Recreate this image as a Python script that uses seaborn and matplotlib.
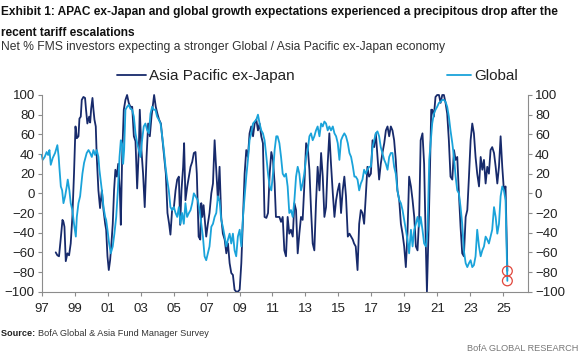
import numpy as np
import pandas as pd
import matplotlib
matplotlib.use("Agg")
import matplotlib.pyplot as plt
from matplotlib.lines import Line2D
import seaborn as sns

# ── Data (decimal year, net %) ──────────────────────────
apac_t = [1997.85, 1997.95, 1998.05, 1998.15, 1998.26, 1998.32, 1998.38, 1998.46, 1998.56, 1998.66,
          1998.76, 1998.86, 1998.96, 1999.05, 1999.13, 1999.23, 1999.29, 1999.37, 1999.43, 1999.53,
          1999.63, 1999.69, 1999.77, 1999.88, 1999.94, 2000.00, 2000.08, 2000.14, 2000.20, 2000.28,
          2000.34, 2000.44, 2000.54, 2000.65, 2000.75, 2000.85, 2000.91, 2000.99, 2001.07, 2001.15,
          2001.23, 2001.31, 2001.39, 2001.47, 2001.56, 2001.64, 2001.74, 2001.80, 2001.88, 2001.98,
          2002.08, 2002.18, 2002.28, 2002.38, 2002.49, 2002.59, 2002.69, 2002.79, 2002.89, 2002.95,
          2003.05, 2003.15, 2003.25, 2003.36, 2003.46, 2003.56, 2003.66, 2003.76, 2003.82, 2003.92,
          2004.02, 2004.12, 2004.23, 2004.33, 2004.43, 2004.53, 2004.63, 2004.73, 2004.81, 2004.91,
          2005.02, 2005.12, 2005.22, 2005.32, 2005.40, 2005.48, 2005.58, 2005.64, 2005.72, 2005.83,
          2005.93, 2006.03, 2006.13, 2006.23, 2006.33, 2006.41, 2006.52, 2006.62, 2006.68, 2006.74,
          2006.82, 2006.88, 2006.98, 2007.08, 2007.18, 2007.29, 2007.39, 2007.49, 2007.59, 2007.69,
          2007.79, 2007.89, 2007.99, 2008.10, 2008.20, 2008.30, 2008.40, 2008.50, 2008.60, 2008.70,
          2008.80, 2008.90, 2009.01, 2009.11, 2009.21, 2009.31, 2009.41, 2009.51, 2009.61, 2009.71,
          2009.82, 2009.92, 2010.02, 2010.12, 2010.22, 2010.32, 2010.42, 2010.52, 2010.63, 2010.73,
          2010.83, 2010.93, 2011.03, 2011.13, 2011.21, 2011.42, 2011.52, 2011.62, 2011.72, 2011.82,
          2011.92, 2012.02, 2012.12, 2012.23, 2012.33, 2012.43, 2012.53, 2012.63, 2012.73, 2012.83,
          2012.93, 2013.04, 2013.14, 2013.24, 2013.34, 2013.44, 2013.54, 2013.64, 2013.74, 2013.85,
          2013.95, 2014.05, 2014.15, 2014.25, 2014.35, 2014.45, 2014.55, 2014.66, 2014.76, 2014.86,
          2014.96, 2015.06, 2015.16, 2015.26, 2015.36, 2015.46, 2015.57, 2015.67, 2015.77, 2015.87,
          2015.95, 2016.05, 2016.16, 2016.26, 2016.36, 2016.46, 2016.56, 2016.66, 2016.76, 2016.86,
          2016.97, 2017.07, 2017.17, 2017.27, 2017.37, 2017.47, 2017.57, 2017.67, 2017.78, 2017.88,
          2017.98, 2018.08, 2018.18, 2018.28, 2018.38, 2018.48, 2018.58, 2018.69, 2018.79, 2018.89,
          2018.99, 2019.09, 2019.19, 2019.29, 2019.40, 2019.50, 2019.60, 2019.70, 2019.80, 2019.90,
          2019.99, 2020.10, 2020.20, 2020.31, 2020.37, 2020.47, 2020.55, 2020.63, 2020.69, 2020.79,
          2020.89, 2020.99, 2021.10, 2021.20, 2021.30, 2021.40, 2021.50, 2021.60, 2021.70, 2021.80,
          2021.91, 2022.01, 2022.11, 2022.21, 2022.31, 2022.41, 2022.51, 2022.61, 2022.72, 2022.82,
          2022.92, 2023.02, 2023.12, 2023.22, 2023.32, 2023.42, 2023.53, 2023.63, 2023.73, 2023.83,
          2023.93, 2024.03, 2024.13, 2024.23, 2024.33, 2024.44, 2024.54, 2024.64, 2024.74, 2024.84,
          2024.94, 2025.04, 2025.14, 2025.25]
apac_v = [-60, -63, -64, -47, -27, -29, -34, -69, -61, -63,
          -51, -24, 20, 68, 56, 58, 76, 78, 95, 98,
          97, 85, 71, 78, 72, 86, 97, 85, 75, 68,
          37, 3, -15, 3, -17, -31, -37, -64, -78, -68,
          -51, -31, 3, 24, 17, 30, 3, -32, 37, 85,
          95, 100, 92, 88, 88, 58, 53, 5, 44, 85,
          44, 20, -14, 37, 71, 58, 78, 92, 100, 88,
          81, 75, 71, 54, 37, 20, -20, -31, -42, -17,
          -14, 3, 14, 17, -32, 3, 27, 51, -7, 7,
          17, 27, 32, 41, 42, 20, -44, -47, -10, -24,
          -12, -24, -44, -31, -20, 0, 10, 54, 24, -7,
          27, -24, -41, -47, -61, -51, -71, -81, -83, -98,
          -100, -100, -98, -71, -24, 20, 44, 37, 61, 68,
          58, 71, 75, 64, 71, 58, 51, -24, -25, -20,
          20, 42, 34, 10, -24, -24, -29, -24, -58, -64,
          -24, -41, -37, -44, -10, -17, -61, -41, -24, -27,
          7, 51, 47, 24, -17, -51, -58, -10, 27, 3,
          41, 17, -24, -14, 30, 61, 30, 0, -24, -7,
          3, 10, -20, 3, 17, -3, -44, -41, -44, -47,
          -51, -54, -78, -31, -17, -20, -31, -3, 27, 17,
          20, 54, 47, 61, 37, 14, 30, 41, 51, 64,
          68, 58, 68, 64, 54, 34, 3, -7, -31, -41,
          -54, -75, -41, 17, 7, -7, -24, -54, -58, -24,
          54, 61, 30, -58, -100, -37, 20, 85, 85, 78,
          98, 100, 100, 92, 100, 100, 92, 81, 54, 17,
          14, 44, 34, 37, 0, -34, -61, -64, -24, -17,
          17, 54, 71, 61, 37, 20, 7, 37, 24, 34,
          10, 27, 20, 44, 47, 41, 27, 10, 27, 58,
          27, 3, 7, -79]

glob_t = [1997.00, 1997.06, 1997.18, 1997.30, 1997.39, 1997.47, 1997.55, 1997.67, 1997.81, 1997.95,
          1998.03, 1998.07, 1998.16, 1998.24, 1998.32, 1998.42, 1998.52, 1998.58, 1998.68, 1998.76,
          1998.86, 1998.96, 1999.07, 1999.13, 1999.23, 1999.33, 1999.47, 1999.57, 1999.73, 1999.84,
          1999.94, 2000.04, 2000.14, 2000.24, 2000.34, 2000.44, 2000.50, 2000.65, 2000.75, 2000.85,
          2000.91, 2000.99, 2001.09, 2001.19, 2001.31, 2001.41, 2001.52, 2001.62, 2001.72, 2001.80,
          2001.88, 2001.94, 2002.00, 2002.08, 2002.18, 2002.28, 2002.38, 2002.49, 2002.59, 2002.69,
          2002.79, 2002.89, 2002.99, 2003.09, 2003.19, 2003.29, 2003.40, 2003.50, 2003.60, 2003.70,
          2003.80, 2003.90, 2004.00, 2004.10, 2004.21, 2004.31, 2004.41, 2004.51, 2004.61, 2004.71,
          2004.81, 2004.91, 2005.02, 2005.12, 2005.22, 2005.32, 2005.42, 2005.52, 2005.62, 2005.72,
          2005.82, 2005.93, 2006.03, 2006.13, 2006.23, 2006.33, 2006.47, 2006.58, 2006.68, 2006.78,
          2006.88, 2006.98, 2007.08, 2007.18, 2007.29, 2007.39, 2007.49, 2007.59, 2007.69, 2007.79,
          2007.89, 2007.99, 2008.10, 2008.20, 2008.30, 2008.40, 2008.50, 2008.60, 2008.70, 2008.80,
          2008.90, 2009.01, 2009.11, 2009.21, 2009.31, 2009.41, 2009.51, 2009.61, 2009.71, 2009.82,
          2009.92, 2010.02, 2010.12, 2010.22, 2010.32, 2010.42, 2010.52, 2010.63, 2010.73, 2010.83,
          2010.93, 2011.03, 2011.13, 2011.23, 2011.31, 2011.42, 2011.52, 2011.62, 2011.72, 2011.82,
          2011.92, 2012.02, 2012.12, 2012.23, 2012.33, 2012.43, 2012.53, 2012.63, 2012.73, 2012.83,
          2012.93, 2013.04, 2013.14, 2013.24, 2013.34, 2013.44, 2013.54, 2013.64, 2013.74, 2013.85,
          2013.95, 2014.05, 2014.15, 2014.25, 2014.35, 2014.45, 2014.55, 2014.66, 2014.76, 2014.86,
          2014.96, 2015.06, 2015.16, 2015.26, 2015.36, 2015.46, 2015.57, 2015.67, 2015.77, 2015.87,
          2015.97, 2016.05, 2016.16, 2016.26, 2016.36, 2016.46, 2016.56, 2016.66, 2016.76, 2016.86,
          2016.97, 2017.07, 2017.17, 2017.27, 2017.37, 2017.47, 2017.57, 2017.67, 2017.78, 2017.88,
          2017.98, 2018.08, 2018.18, 2018.28, 2018.38, 2018.48, 2018.58, 2018.69, 2018.79, 2018.89,
          2018.99, 2019.09, 2019.19, 2019.29, 2019.40, 2019.50, 2019.60, 2019.70, 2019.80, 2019.90,
          2019.99, 2020.10, 2020.20, 2020.31, 2020.41, 2020.51, 2020.61, 2020.69, 2020.79, 2020.89,
          2020.99, 2021.10, 2021.20, 2021.30, 2021.40, 2021.50, 2021.60, 2021.70, 2021.80, 2021.91,
          2022.01, 2022.11, 2022.21, 2022.31, 2022.41, 2022.51, 2022.61, 2022.72, 2022.82, 2022.92,
          2023.02, 2023.12, 2023.22, 2023.32, 2023.42, 2023.53, 2023.63, 2023.73, 2023.83, 2023.93,
          2024.03, 2024.13, 2024.23, 2024.33, 2024.44, 2024.54, 2024.64, 2024.74, 2024.84, 2024.94,
          2025.04, 2025.14, 2025.25]
glob_v = [39, 34, 37, 42, 39, 44, 29, 36, 41, 49,
          37, 27, 7, 3, -10, -3, 7, 14, 3, -10,
          -17, -31, -44, -24, -10, -3, 20, 31, 41, 44,
          41, 37, 44, 39, 44, 37, 24, 3, -14, -24,
          -27, -37, -51, -61, -54, -41, -24, 3, 37, 54,
          50, 30, 44, 85, 88, 90, 86, 85, 78, 61,
          51, 44, 37, 54, 68, 71, 64, 61, 81, 88,
          85, 85, 78, 75, 71, 58, 44, 27, 14, 3,
          -14, -17, -14, -20, -24, -14, -31, -20, -31, -10,
          -24, -20, -17, -10, 0, -3, -7, -17, -31, -44,
          -64, -68, -61, -54, -34, -31, -24, -20, -3, -7,
          -27, -34, -44, -54, -47, -41, -51, -41, -58, -64,
          -44, -37, -54, -24, -3, 17, 34, 54, 61, 71,
          73, 75, 80, 71, 64, 61, 54, 37, 20, 7,
          3, 20, 44, 58, 58, 51, 37, 20, 17, 20,
          7, -20, -17, -24, -7, 17, 27, 20, 3, 10,
          20, 37, 44, 58, 61, 54, 58, 64, 68, 58,
          71, 68, 73, 71, 64, 68, 64, 68, 61, 58,
          51, 34, 54, 58, 61, 58, 51, 41, 37, 28,
          17, 17, 14, 3, 10, 14, 24, 20, 24, 27,
          27, 47, 54, 61, 63, 58, 47, 41, 34, 30,
          24, 37, 41, 41, 27, 20, 3, -7, -10, -17,
          -27, -37, -47, -61, -37, -54, -37, -31, -24, -34,
          -24, -37, -51, -54, -37, 34, 54, 71, 81, 85,
          88, 92, 93, 95, 95, 93, 88, 78, 64, 51,
          37, 17, 3, 0, -14, -31, -58, -71, -75, -71,
          -68, -75, -73, -64, -37, -54, -64, -58, -54, -44,
          -47, -51, -44, -37, -14, -24, -41, -31, -3, 7,
          3, -7, -89]

year_ticks = list(range(1997, 2026, 2))
year_labels = [f"{y % 100:02d}" for y in year_ticks]
y_ticks = list(range(-100, 101, 20))

series_names = ["Asia Pacific ex-Japan", "Global"]
dark_blue = "#172a6b"
light_blue = "#1aa3da"

df = pd.concat([
    pd.DataFrame({"t": apac_t, "v": apac_v, "series": series_names[0]}),
    pd.DataFrame({"t": glob_t, "v": glob_v, "series": series_names[1]}),
], ignore_index=True)

# ── Style ────────────────────────────────────────────────────────────────────
sns.set_theme(style="white")
plt.rcParams["font.family"] = ["Liberation Sans", "DejaVu Sans"]
axis_grey = "#8c8c8c"
text_col = "#222222"

fig = plt.figure(figsize=(5.8, 3.59), dpi=100)
ax = fig.add_axes([0.0719, 0.1875, 0.8384, 0.5479])

sns.lineplot(data=df, x="t", y="v", hue="series", hue_order=series_names,
             palette=[dark_blue, light_blue], estimator=None, sort=False,
             linewidth=1.3, ax=ax, clip_on=False, legend=False)

ax.set_xlim(1997, 2026.5)
ax.set_ylim(-100, 100)
ax.set_xticks(year_ticks)
ax.set_xticklabels(year_labels)
ax.set_yticks(y_ticks)
ax.set_xlabel("")
ax.set_ylabel("")

ax.spines["top"].set_visible(False)
for side in ["left", "right", "bottom"]:
    ax.spines[side].set_visible(True)
    ax.spines[side].set_color(axis_grey)
    ax.spines[side].set_linewidth(0.8)
ax.tick_params(axis="both", which="both", direction="out", length=3, width=0.8,
               color=axis_grey, labelsize=9.5, labelcolor=text_col, pad=2)
ax.tick_params(axis="y", right=True, labelright=True, left=True, labelleft=True)
ax.tick_params(axis="x", bottom=True, pad=5)

# last-reading markers
ax.scatter([apac_t[-1], glob_t[-1]], [apac_v[-1], glob_v[-1]], s=50,
           facecolors="none", edgecolors="#e0463c", linewidths=0.9, zorder=5, clip_on=False)

# two separate legend entries, spread across the top as in the exhibit
h_apac = Line2D([], [], color=dark_blue, linewidth=1.3)
h_glob = Line2D([], [], color=light_blue, linewidth=1.3)
fig.legend([h_apac], [series_names[0]], loc="center left", bbox_to_anchor=(0.202, 0.787),
           frameon=False, fontsize=11, handlelength=1.9, handletextpad=0.2,
           borderpad=0, borderaxespad=0, labelcolor=text_col)
fig.legend([h_glob], [series_names[1]], loc="center left", bbox_to_anchor=(0.770, 0.787),
           frameon=False, fontsize=11, handlelength=1.6, handletextpad=0.2,
           borderpad=0, borderaxespad=0, labelcolor=text_col)

# ── Titles / notes ───────────────────────────────────────────────────────────
title_kw = dict(ha="left", va="center", fontsize=8.6, fontweight="bold", color="#111111")
fig.text(0.002, 1 - 12 / 359,
         "Exhibit 1: APAC ex-Japan and global growth expectations experienced a precipitous drop after the",
         **title_kw)
fig.text(0.002, 1 - 33 / 359, "recent tariff escalations", **title_kw)
fig.text(0.002, 0.868, "Net % FMS investors expecting a stronger Global / Asia Pacific ex-Japan economy",
         ha="left", va="center", fontsize=8.7, color="#333333")
src = fig.text(0.002, 0.072, "Source: ", ha="left", va="center", fontsize=6.6,
               fontweight="bold", color=text_col)
plt.annotate("BofA Global & Asia Fund Manager Survey", xy=(1, 0.5), xycoords=src,
             ha="left", va="center", fontsize=6.6, color="#333333")
fig.text(0.997, 0.028, "BofA GLOBAL RESEARCH", ha="right", va="center", fontsize=6.6, color="#777777")

plt.savefig("out.png", dpi=100)
